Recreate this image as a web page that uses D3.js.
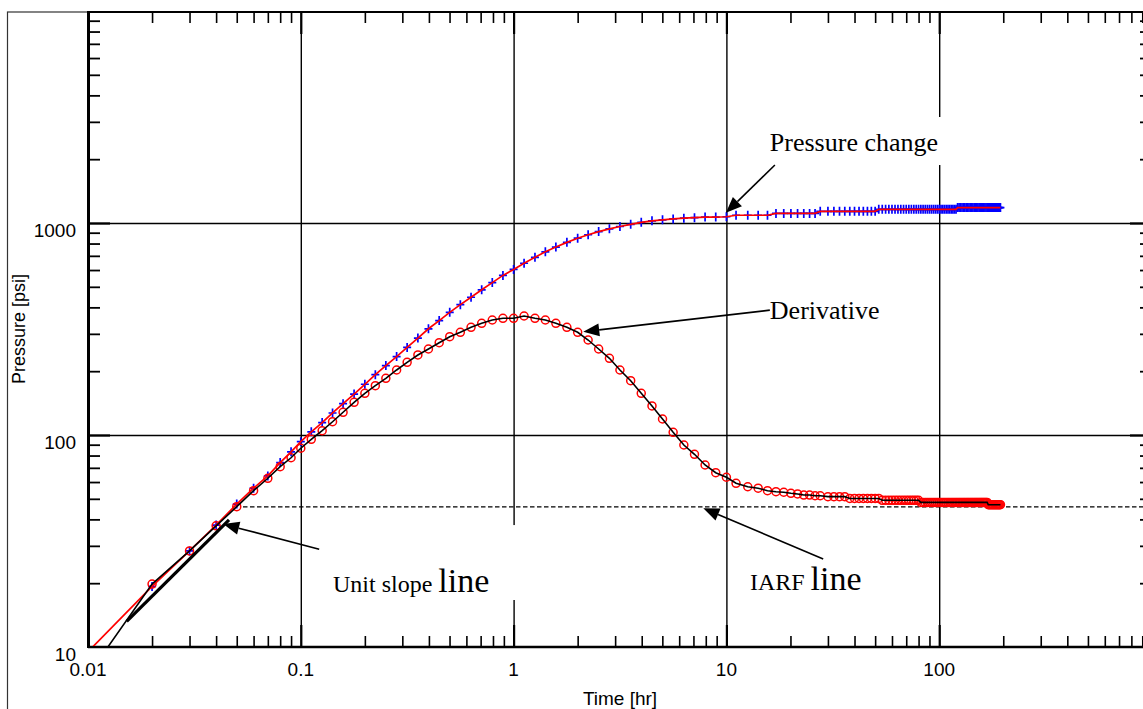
<!DOCTYPE html>
<html>
<head>
<meta charset="utf-8">
<script src="https://cdn.jsdelivr.net/npm/d3@7"></script>
<style>
  html, body { margin: 0; padding: 0; background: #ffffff; }
  svg { display: block; }
</style>
</head>
<body>
<svg id="chart" width="1143" height="709"></svg>
<script>
// ---- Build-up test: elapsed time [hr], pressure change and derivative [psi] ----
const timeHr = [
  0.02, 0.03, 0.04, 0.05, 0.06, 0.07, 0.08, 0.09,
  0.1, 0.112, 0.126, 0.141, 0.158, 0.178, 0.2, 0.224, 0.251, 0.282,
  0.316, 0.355, 0.398, 0.447, 0.501, 0.562, 0.631, 0.708, 0.794, 0.891,
  1, 1.12, 1.26, 1.41, 1.58, 1.78, 2, 2.24, 2.51, 2.82,
  3.16, 3.55, 3.98, 4.47, 5.01, 5.62, 6.31, 7.08, 7.94, 8.91, 10,
  11.1, 12.6, 14.1, 15.6, 17.1, 18.6, 20.1, 21.6, 23.1, 24.6, 26.1, 27.6,
  30, 32, 34, 36, 38, 40, 42, 44, 46, 48, 50, 52, 54, 56, 58, 60,
  62, 64, 66, 68, 70, 72, 74, 76, 78, 80, 82, 84, 86, 88, 90, 92,
  94, 96, 98, 100, 102, 104, 106, 108, 110, 112, 114, 116, 118, 120, 122, 124,
  126, 128, 130, 132, 134, 136, 138, 140, 142, 144, 146, 148, 150, 152, 154, 156,
  158, 160, 162, 164, 166, 168, 170, 172, 174, 176, 178, 180, 182, 184, 186, 188,
  190, 192, 194
];

const pressurePsi = [
  19.3, 28.4, 37.6, 47.2, 56.1, 64.1, 74.1, 83.3,
  93, 103.5, 114.5, 127, 140.5, 156, 173.5, 192.5, 212.5, 234.3,
  259, 286.5, 317, 346.5, 379, 412, 446.5, 484, 523.5, 566,
  604, 646, 689, 731.5, 770, 810.5, 848, 880, 911, 938.5,
  962.5, 985.5, 1007.5, 1024, 1035, 1045, 1054, 1060, 1067, 1067, 1070,
  1088, 1088, 1088, 1088, 1110, 1110, 1110, 1110, 1110, 1110, 1110, 1135,
  1135, 1135, 1135, 1135, 1135, 1135, 1135, 1135, 1135, 1135, 1135, 1160, 1160, 1160, 1160, 1160,
  1160, 1160, 1160, 1160, 1160, 1160, 1160, 1160, 1160, 1160, 1160, 1160, 1160, 1160, 1160, 1160,
  1160, 1160, 1160, 1160, 1160, 1160, 1160, 1160, 1160, 1160, 1160, 1160, 1160, 1160, 1182, 1182,
  1182, 1182, 1182, 1182, 1182, 1182, 1182, 1182, 1182, 1182, 1182, 1182, 1182, 1182, 1182, 1182,
  1182, 1182, 1182, 1182, 1182, 1182, 1182, 1182, 1182, 1182, 1182, 1182, 1182, 1182, 1182, 1182,
  1182, 1182, 1182
];

const derivativePsi = [
  19.8, 28.4, 37.3, 45.9, 54.6, 62.5, 70.9, 78.1,
  86.6, 95.4, 104.8, 115.5, 128, 142.6, 157.3, 170.8, 185.1, 202.6,
  220.3, 238.5, 254.5, 272.5, 290.9, 305.1, 322.1, 336.4, 348.7, 355.2,
  355.2, 364.2, 355.2, 348.7, 336.4, 322.1, 305.1, 280.6, 254.5, 230,
  202.6, 180.4, 157.3, 137.1, 119, 103, 89.7, 81.1, 72.2, 66.4, 63.2,
  59.2, 57.0, 56.1, 54.6, 54.0, 53.7, 53.1, 52.7, 52.1, 52.1, 51.7, 51.7,
  51.2, 51.2, 51.2, 51.2, 50.2, 50.2, 50.2, 50.2, 50.2, 50.2, 50.2, 50.2, 49.2, 49.2, 49.2, 49.2,
  49.2, 49.2, 49.2, 49.2, 49.2, 49.2, 49.2, 49.2, 49.2, 49.2, 48.1, 48.1, 48.1, 48.1, 48.1, 48.1,
  48.1, 48.1, 48.1, 48.1, 48.1, 48.1, 48.1, 48.1, 48.1, 48.1, 48.1, 48.1, 48.1, 48.1, 48.1, 48.1,
  48.1, 48.1, 48.1, 48.1, 48.1, 48.1, 48.1, 48.1, 48.1, 48.1, 48.1, 48.1, 48.1, 48.1, 48.1, 48.1,
  48.1, 48.1, 48.1, 48.1, 48.1, 48.1, 46.9, 46.9, 46.9, 46.9, 46.9, 46.9, 46.9, 46.9, 46.9, 46.9,
  46.9, 46.9, 46.9
];

// Early-time start of the matched model curves (below the first sample)
const pressureModelLead = [0.01, 9.5];
const derivativeModelLead = [0.0124, 10];

// Unit slope straight line and IARF stabilisation level
const unitSlopeTime = [0.0152, 0.046];
const unitSlopePsi = [13.2, 39.8];
const iarfTime = [0.0535, 1000];
const iarfPsi = 45.8;

// Axis definitions
const xDomain = [0.01, 1000];
const yDomain = [10, 10000];
const xMajor = [0.01, 0.1, 1, 10, 100];
const xMajorLabels = ["0.01", "0.1", "1", "10", "100"];
const yMajor = [10, 100, 1000];
const yMajorLabels = ["10", "100", "1000"];
const xGrid = [0.1, 1, 10, 100];
const yGrid = [100, 1000];

// Annotations: text anchor and arrow (tail -> tip) in data units
const noteText = ["Pressure change", "Derivative", "Unit slope ", "IARF "];
const noteBig = ["", "", "line", "line"];
const noteAt = [[16.0, 2186], [16.0, 354], [0.1417, 18.17], [12.9, 18.58]];
const arrowTail = [[16.9, 1877], [16.0, 388], [0.122, 28.9], [28.5, 26.0]];
const arrowTip = [[9.95, 1118], [2.125, 307], [0.0432, 38.0], [7.79, 45.1]];
// text-box backgrounds (corners in data units) that mask the grid behind a label
const noteBoxFrom = [[13.3, 3162], null, [0.1231, 37.6], null];
const noteBoxTo = [[110, 1877], null, [1.095, 16.66], null];

// ---- Drawing ----
const svg = d3.select("#chart");
const W = 1143, H = 709;
const plot = { left: 88, right: 1152, top: 11, bottom: 647 };

const x = d3.scaleLog().domain(xDomain).range([plot.left, plot.right]);
const y = d3.scaleLog().domain(yDomain).range([plot.bottom, plot.top]);

svg.append("rect").attr("width", W).attr("height", H).attr("fill", "#fff");

// outer frame
svg.append("rect")
  .attr("x", 7.5).attr("y", 12).attr("width", 1300).attr("height", 900)
  .attr("fill", "none").attr("stroke", "#333").attr("stroke-width", 1.2);

const decades = (lo, hi) => {
  const out = [];
  for (let d = lo; d < hi * 0.999; d *= 10) for (let m = 2; m <= 9; m++) out.push(d * m);
  return out;
};
const xMinor = decades(xDomain[0], xDomain[1]);
const yMinor = decades(yDomain[0], yDomain[1]);

// grid lines
const grid = svg.append("g").attr("class", "grid");
grid.append("g").attr("transform", `translate(0,${plot.bottom})`)
  .call(d3.axisBottom(x).tickValues(xGrid).tickSize(-(plot.bottom - plot.top)).tickFormat(""));
grid.append("g").attr("transform", `translate(${plot.left},0)`)
  .call(d3.axisLeft(y).tickValues(yGrid).tickSize(-(plot.right - plot.left)).tickFormat(""));
grid.selectAll(".domain").remove();
grid.selectAll("line").attr("stroke", "#000").attr("stroke-width", 1.4);

// ticks on all four sides, pointing inward
function tickSet(axisFn, pos, vals, len, width) {
  const g = svg.append("g").attr("transform", pos)
    .call(axisFn.tickValues(vals).tickSize(-len).tickFormat(""));
  g.select(".domain").remove();
  g.selectAll("line").attr("stroke", "#000").attr("stroke-width", width);
  return g;
}
const xMajorIn = [0.1, 1, 10, 100];
const yMajorIn = [100, 1000];

// label backgrounds that interrupt the grid
const boxes = svg.append("g");
noteBoxFrom.forEach((a, i) => {
  if (!a) return;
  const b = noteBoxTo[i];
  boxes.append("rect")
    .attr("x", x(a[0])).attr("y", y(a[1]))
    .attr("width", x(b[0]) - x(a[0])).attr("height", y(b[1]) - y(a[1]))
    .attr("fill", "#fff");
});

tickSet(d3.axisBottom(x), `translate(0,${plot.bottom})`, xMinor, 11, 1.6);
tickSet(d3.axisTop(x), `translate(0,${plot.top + 1})`, xMinor, 11, 1.6);
tickSet(d3.axisLeft(y), `translate(${plot.left},0)`, yMinor, 12, 1.8);
tickSet(d3.axisRight(y), `translate(${plot.right},0)`, yMinor, 12, 1.8);
tickSet(d3.axisBottom(x), `translate(0,${plot.bottom})`, xMajorIn, 22, 2.2);
tickSet(d3.axisTop(x), `translate(0,${plot.top + 1})`, xMajorIn, 22, 2.2);
tickSet(d3.axisLeft(y), `translate(${plot.left},0)`, yMajorIn, 22, 2.2);
tickSet(d3.axisRight(y), `translate(${plot.right},0)`, yMajorIn, 22, 2.2);

// axis lines
svg.append("line").attr("x1", plot.left).attr("x2", plot.right + 2)
  .attr("y1", plot.bottom).attr("y2", plot.bottom).attr("stroke", "#000").attr("stroke-width", 2.4);
svg.append("line").attr("x1", plot.left).attr("x2", plot.right + 2)
  .attr("y1", plot.top + 1).attr("y2", plot.top + 1).attr("stroke", "#000").attr("stroke-width", 2);
svg.append("line").attr("x1", plot.left + 0.5).attr("x2", plot.left + 0.5)
  .attr("y1", plot.top).attr("y2", plot.bottom + 1).attr("stroke", "#000").attr("stroke-width", 3);

// tick labels
const lab = svg.append("g").attr("font-family", "Arial, 'Liberation Sans', sans-serif")
  .attr("font-size", 19).attr("fill", "#000");
lab.selectAll("text.xl").data(xMajor).join("text").attr("class", "xl")
  .attr("x", d => x(d)).attr("y", plot.bottom + 29).attr("text-anchor", "middle")
  .text((d, i) => xMajorLabels[i]);
lab.selectAll("text.yl").data(yMajor).join("text").attr("class", "yl")
  .attr("x", plot.left - 12).attr("y", d => y(d) + 13.5).attr("text-anchor", "end")
  .text((d, i) => yMajorLabels[i]);

// axis titles
svg.append("text").attr("x", (plot.left + plot.right) / 2).attr("y", 705)
  .attr("text-anchor", "middle").attr("font-family", "Arial, 'Liberation Sans', sans-serif")
  .attr("font-size", 19).text("Time [hr]");
svg.append("text").attr("transform", `translate(25,${(plot.top + plot.bottom) / 2}) rotate(-90)`)
  .attr("text-anchor", "middle").attr("font-family", "Arial, 'Liberation Sans', sans-serif")
  .attr("font-size", 18).text("Pressure [psi]");

// ---- data layer ----
svg.append("clipPath").attr("id", "plotClip").append("rect")
  .attr("x", plot.left + 2).attr("y", plot.top + 2)
  .attr("width", plot.right - plot.left - 2).attr("height", plot.bottom - plot.top - 3);
const data = svg.append("g").attr("clip-path", "url(#plotClip)");

const series = timeHr.map((t, i) => ({ t, p: pressurePsi[i], d: derivativePsi[i] }));
const line = d3.line().x(d => x(d[0])).y(d => y(d[1]));

// IARF dashed level
data.append("path")
  .attr("d", line([[iarfTime[0], iarfPsi], [iarfTime[1], iarfPsi]]))
  .attr("stroke", "#000").attr("stroke-width", 1.3).attr("stroke-dasharray", "4.5,2.5").attr("fill", "none");

// pressure change markers
data.append("g").selectAll("path").data(series).join("path")
  .attr("transform", d => `translate(${x(d.t)},${y(d.p)})`)
  .attr("d", "M-4,0H4M0,-4.5V4.5")
  .attr("stroke", "#0000ff").attr("stroke-width", 1.7).attr("fill", "none");

// pressure model line
data.append("path")
  .attr("d", line([pressureModelLead].concat(series.map(d => [d.t, d.p]))))
  .attr("stroke", "#ff0000").attr("stroke-width", 1.7).attr("fill", "none");

// derivative markers
data.append("g").selectAll("circle").data(series).join("circle")
  .attr("cx", d => x(d.t)).attr("cy", d => y(d.d)).attr("r", 4)
  .attr("stroke", "#ff0000").attr("stroke-width", 1.5).attr("fill", "none");

// derivative model line
data.append("path")
  .attr("d", line([derivativeModelLead].concat(series.map(d => [d.t, d.d]))))
  .attr("stroke", "#000").attr("stroke-width", 1.6).attr("fill", "none");

// unit slope line
data.append("path")
  .attr("d", line(unitSlopeTime.map((t, i) => [t, unitSlopePsi[i]])))
  .attr("stroke", "#000").attr("stroke-width", 3.2).attr("fill", "none");

// ---- annotations ----
const notes = svg.append("g");
noteText.forEach((txt, i) => {
  const tail = [x(arrowTail[i][0]), y(arrowTail[i][1])];
  const tip = [x(arrowTip[i][0]), y(arrowTip[i][1])];
  const ang = Math.atan2(tip[1] - tail[1], tip[0] - tail[0]);
  const L = 16, Wd = 6.5;
  const bx = tip[0] - L * Math.cos(ang), by = tip[1] - L * Math.sin(ang);
  notes.append("line").attr("x1", tail[0]).attr("y1", tail[1]).attr("x2", bx).attr("y2", by)
    .attr("stroke", "#000").attr("stroke-width", 1.6);
  notes.append("path")
    .attr("d", `M${tip[0]},${tip[1]}L${bx - Wd * Math.sin(ang)},${by + Wd * Math.cos(ang)}L${bx + Wd * Math.sin(ang)},${by - Wd * Math.cos(ang)}Z`)
    .attr("fill", "#000");

  const t = notes.append("text")
    .attr("x", x(noteAt[i][0])).attr("y", y(noteAt[i][1]))
    .attr("font-family", "'Times New Roman', 'Liberation Serif', serif").attr("fill", "#000");
  t.append("tspan").attr("font-size", noteBig[i] ? 24 : 26).text(txt);
  if (noteBig[i]) t.append("tspan").attr("font-size", 34).text(noteBig[i]);
});
</script>
</body>
</html>
